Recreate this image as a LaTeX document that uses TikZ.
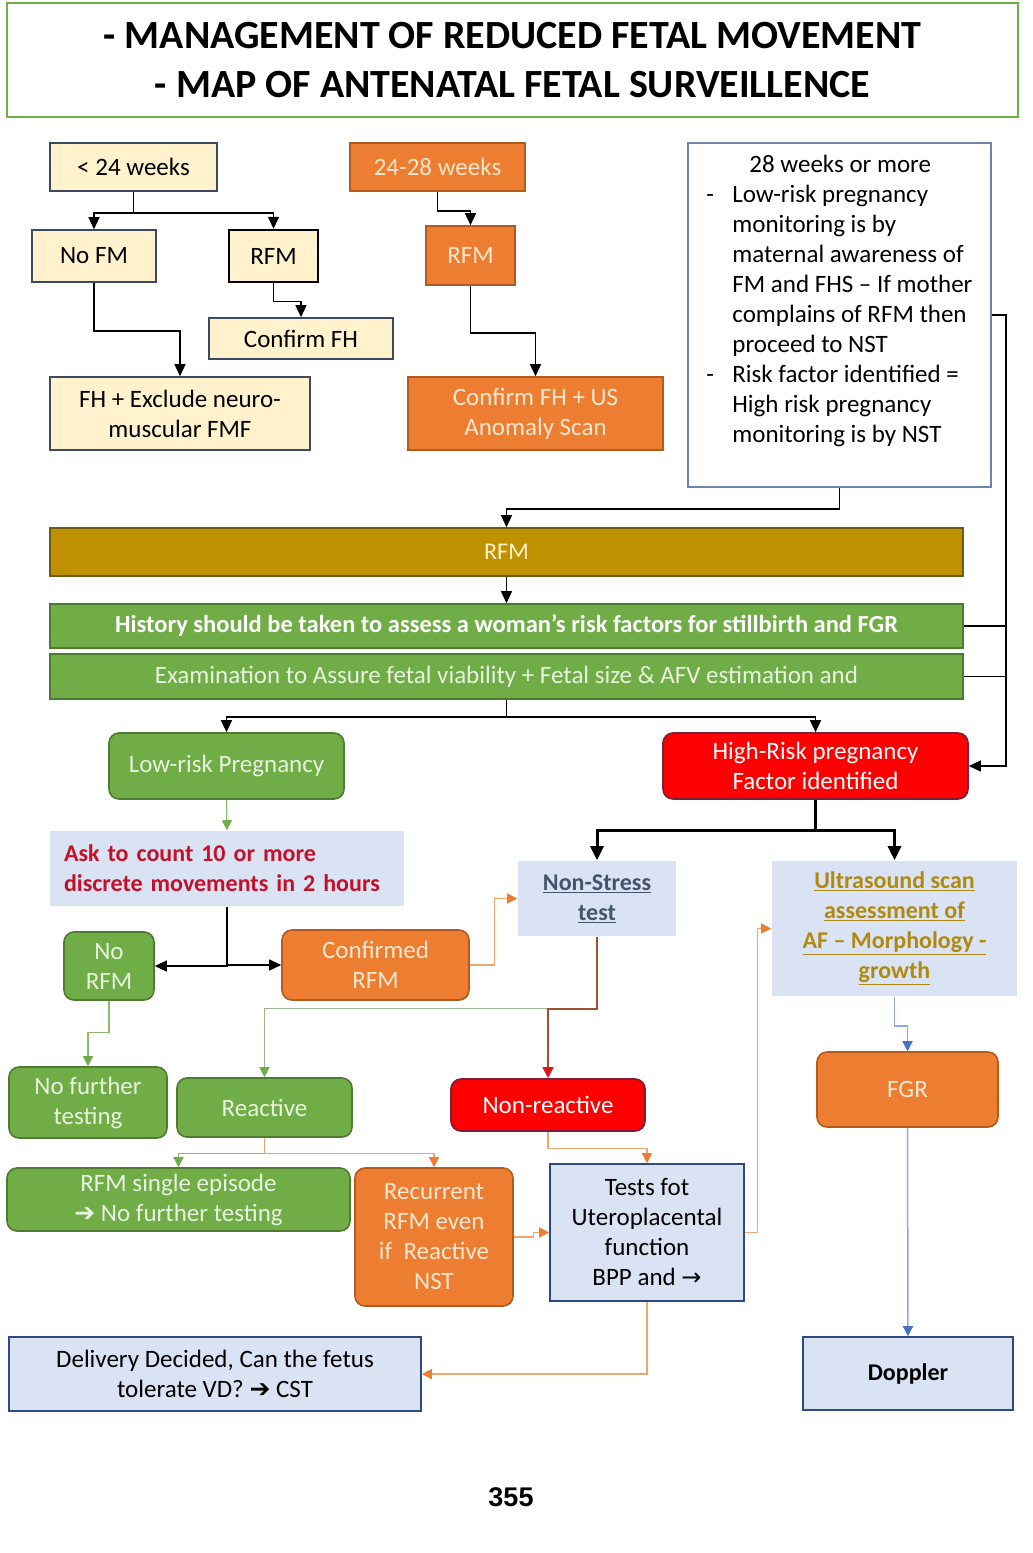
\documentclass[tikz,border=0pt]{standalone}
\usepackage{fontspec}
\setmainfont{Carlito}
\newfontfamily\dv{DejaVu Sans}
\newfontfamily\arl{Liberation Sans}
\usetikzlibrary{arrows.meta}
\definecolor{cream}{HTML}{FFF2CC}
\definecolor{slate}{HTML}{3B4A5E}
\definecolor{orF}{HTML}{ED7D31}
\definecolor{orD}{HTML}{B35A1F}
\definecolor{orT}{HTML}{FCE8CF}
\definecolor{orL}{HTML}{EFA56E}
\definecolor{grF}{HTML}{70AD47}
\definecolor{grD}{HTML}{4E7A31}
\definecolor{grT}{HTML}{E8F3E0}
\definecolor{grL}{HTML}{8DBB6B}
\definecolor{grG}{HTML}{9DB58E}
\definecolor{rdF}{HTML}{FF0000}
\definecolor{rdD}{HTML}{7A1F3A}
\definecolor{askT}{HTML}{C4102A}
\definecolor{lb}{HTML}{DAE3F3}
\definecolor{gold}{HTML}{BF9000}
\definecolor{goldD}{HTML}{6E5A10}
\definecolor{navy}{HTML}{2F4A80}
\definecolor{bgray}{HTML}{6C85A8}
\definecolor{nstT}{HTML}{44546A}
\definecolor{usT}{HTML}{B08A10}
\definecolor{brn}{HTML}{A0502D}
\definecolor{rdA}{HTML}{D91A1A}
\definecolor{blL}{HTML}{8FAADC}
\definecolor{blT}{HTML}{4472C4}
\begin{document}
\begin{tikzpicture}[x=1pt,y=-1pt,
  sz/.style 2 args={minimum width=#1pt, minimum height=#2pt},
  bx/.style={draw, rectangle, align=center, inner sep=0pt, line width=1.6pt, font=\fontsize{25}{30}\selectfont},
  creambox/.style={bx, fill=cream, draw=slate},
  orbox/.style={bx, fill=orF, draw=orD, text=orT},
  orround/.style={orbox, rounded corners=10pt},
  grround/.style={bx, rounded corners=10pt, fill=grF, draw=grD, text=grT},
  rdround/.style={bx, rounded corners=10pt, fill=rdF, draw=rdD, text=white},
  lbbox/.style={bx, fill=lb, draw=none},
  lbframe/.style={bx, fill=lb, draw=navy},
  barbox/.style={bx, fill=grF, draw=grD, text=white},
  blk/.style={draw=black, line width=1.4pt, -{Triangle[length=12pt,width=11pt]}},
  blkthick/.style={draw=black, line width=3pt, -{Triangle[length=14pt,width=13pt]}},
  grarr/.style={draw=grL, line width=1.3pt, -{Triangle[length=10pt,width=10pt,color=grF]}},
  orarr/.style={draw=orL, line width=1.3pt, -{Triangle[length=10pt,width=10pt,color=orF]}},
  blarr/.style={draw=blL, line width=1.5pt, -{Triangle[length=10pt,width=10pt,color=blT]}},
  ]
\fill[white] (0,0) rectangle (1033,1553);
\useasboundingbox (0,0) rectangle (1033,1553);

% title
\node (title) at (512.5,60) [sz={1011}{114}, draw=grF, line width=2pt, align=center, inner sep=0pt,
  font=\bfseries\fontsize{40}{49}\selectfont] {\raisebox{-3pt}{- MANAGEMENT OF REDUCED FETAL MOVEMENT}\\\raisebox{-3pt}{- MAP OF ANTENATAL FETAL SURVEILLENCE}};

% top left
\node (lt24) at (133.5,167) [creambox, sz={167}{48}] {< 24 weeks};
\node (nofm) at (94,256) [creambox, sz={124}{52}] {No FM};
\node (rfmA) at (273.5,256) [creambox, draw=black, line width=2.4pt, sz={89}{52}] {RFM};
\node (cfh) at (301,338.5) [creambox, sz={184}{41}] {Confirm FH};
\node (fhx) at (180,413.5) [creambox, sz={260}{73}] {FH + Exclude neuro-\\muscular FMF};

\draw[blk] (lt24.south) -- ++(0,21) -| (nofm.north);
\draw[blk] (lt24.south) -- ++(0,21) -| (rfmA.north);
\draw[blk] (rfmA.south) -- ++(0,18) -| (cfh.north);
\draw[blk] (nofm.south) -- ++(0,48) -| (fhx.north);

% top middle
\node (w2428) at (437.5,167) [orbox, sz={175}{48}] {24-28 weeks};
\node (rfmB) at (470.5,255.5) [orbox, sz={89}{59}] {RFM};
\node (cfhus) at (535.5,413.5) [orbox, sz={255}{73}] {Confirm FH + US\\Anomaly Scan};
\draw[blk] (w2428.south) -- ++(0,19) -| (rfmB.north);
\draw[blk] (rfmB.south) -- ++(0,47) -| (cfhus.north);

% top right
\node (w28) at (839.5,315) [bx, fill=white, draw=bgray, sz={303}{344}] {};
\node (w28t) [anchor=north west, inner sep=0pt, align=left, font=\fontsize{25}{30}\selectfont]
  at ([xshift=19pt,yshift=-13pt]w28.north west)
  {\hspace*{43pt}28 weeks or more\\
   \makebox[26pt][l]{-}Low-risk pregnancy\\
   \hspace*{26pt}monitoring is by\\
   \hspace*{26pt}maternal awareness of\\
   \hspace*{26pt}FM and FHS -- If mother\\
   \hspace*{26pt}complains of RFM then\\
   \hspace*{26pt}proceed to NST\\
   \makebox[26pt][l]{-}Risk factor identified =\\
   \hspace*{26pt}High risk pregnancy\\
   \hspace*{26pt}monitoring is by NST};

% bars
\node (rfmbar) at (506.5,552) [bx, fill=gold, draw=goldD, text=cream, sz={913}{48}, font=\fontsize{24}{26}\selectfont] {RFM};
\node (hist) at (506.5,626) [barbox, sz={913}{44}, font=\bfseries\fontsize{24.5}{26}\selectfont] {History should be taken to assess a woman’s risk factors for stillbirth and FGR};
\node (exam) at (506.5,676.5) [barbox, text=grT, sz={913}{45}, font=\fontsize{25}{26}\selectfont] {Examination to Assure fetal viability + Fetal size \& AFV estimation and};

\draw[blk] (w28.south) -- ++(0,21) -| (rfmbar.north);
\draw[blk] (rfmbar.south) -- (hist.north);

% risk split
\node (low) at (226.5,766) [grround, sz={235}{66}] {Low-risk Pregnancy};
\node (hr) at (815.5,766) [rdround, sz={305}{66}] {High-Risk pregnancy\\Factor identified};
\draw[blk] (exam.south) -- ++(0,17) -| (low.north);
\draw[blk] (exam.south) -- ++(0,17) -| (hr.north);

\coordinate (rx) at (1006,315);
\draw[blk] (w28.east) -- (rx) |- (hr.east);
\draw[black, line width=1.4pt] (hist.east) -- (hist.east -| rx);
\draw[black, line width=1.4pt] (exam.east) -- (exam.east -| rx);

% low risk branch
\node (ask) at (227,868.5) [lbbox, sz={354}{75}, text width=326pt, inner xsep=14pt, align=left, text=askT, font=\bfseries\fontsize{24}{30}\selectfont] {Ask to count 10 or more\\discrete movements in 2 hours};
\draw[grarr] (low.south) -- (ask.north);
\node (norfm) at (109,966) [grround, sz={90}{68}] {No\\RFM};
\node (conf) at (375.5,965) [orround, sz={187}{70}] {Confirmed\\RFM};
\draw[blk] (ask.south) |- (norfm.east);
\draw[blk] (ask.south) |- (conf.west);

% high risk branch
\node (nst) at (597,898.5) [lbbox, sz={158}{75}, text=nstT, font=\bfseries\fontsize{24}{30}\selectfont] {\underline{Non-Stress}\\\underline{test}};
\node (us) at (894.5,928.5) [lbbox, sz={245}{135}, text=usT, font=\bfseries\fontsize{24}{30}\selectfont] {\underline{Ultrasound scan}\\\underline{assessment of}\\\underline{AF -- Morphology -}\\\underline{growth}};
\draw[blkthick] (hr.south) -- ++(0,31) -| (nst.north);
\draw[blkthick] (hr.south) -- ++(0,31) -| (us.north);
\draw[orarr] (conf.east) -- ++(25,0) |- (nst.west);

% lower rows
\node (nft) at (88,1102.5) [grround, sz={158}{71}] {No further\\testing};
\node (react) at (264.5,1107.5) [grround, sz={175}{59}] {Reactive};
\node (nonr) at (548,1105) [rdround, sz={194}{52}] {Non-reactive};
\draw[grarr] (norfm.south) -- ++(0,32) -| (nft.north);
\draw[grarr, draw=grG] (nst.south) -- ++(0,72) -| (react.north);
\draw[draw=brn, line width=1.4pt, -{Triangle[length=11pt,width=11pt,color=rdA]}] (nst.south) -- ++(0,72) -| (nonr.north);

\node (single) at (178.5,1199.5) [grround, sz={343}{63}] {RFM single episode\\{\dv\fontsize{25}{30}\selectfont ➔} No further testing};
\node (recur) at (434,1237) [orround, sz={158}{138}] {Recurrent\\RFM even\\if~ Reactive\\NST};
\node (tests) at (647,1232.5) [lbframe, sz={194}{137}] {Tests fot\\Uteroplacental\\function\\BPP and {\dv\fontsize{24}{30}\selectfont →}};
\draw[grarr] (react.south) -- ++(0,16) -| (single.north);
\draw[orarr] (react.south) -- ++(0,16) -| (recur.north);
\draw[orarr] (nonr.south) -- ++(0,17) -| (tests.north);
\draw[orarr] (recur.east) -- ++(20,0) |- (tests.west);
\draw[orarr] (tests.east) -- ++(13,0) |- (us.west);

\node (deliv) at (215,1374) [lbframe, sz={412}{74}] {Delivery Decided, Can the fetus\\tolerate VD? {\dv\fontsize{25}{30}\selectfont ➔} CST};
\draw[orarr] (tests.south) |- (deliv.east);

% right column
\node (fgr) at (907.5,1089.5) [orround, sz={181}{75}] {FGR};
\node (dop) at (908,1373.5) [lbframe, sz={210}{73}, font=\bfseries\fontsize{24}{30}\selectfont] {Doppler};
\draw[blarr] (us.south) -- ++(0,29) -| (fgr.north);
\draw[blarr] (fgr.south) -- (dop.north);

% page number
\node (pg) at (511,1497) [inner sep=0pt, font=\arl\bfseries\fontsize{27}{30}\selectfont] {355};
\end{tikzpicture}
\end{document}
